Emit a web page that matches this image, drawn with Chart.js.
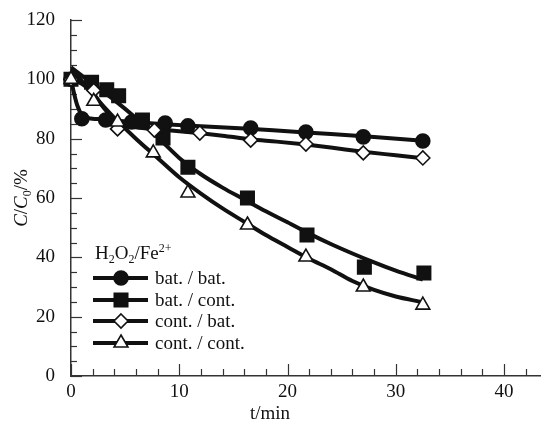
<!DOCTYPE html>
<html><head><meta charset="utf-8">
<script src="https://cdn.jsdelivr.net/npm/chart.js@4/dist/chart.umd.min.js"></script>
<style>html,body{margin:0;padding:0;background:#fff;overflow:hidden}#wrap{width:541px;height:429px;position:relative;overflow:hidden}canvas{display:block}</style>
</head><body><div id="wrap"><canvas id="c" width="553" height="429"></canvas></div>
<script>
const seriesNames = ['bat. / bat.', 'bat. / cont.', 'cont. / bat.', 'cont. / cont.'];
const xTickLabels = [0, 10, 20, 30, 40];
const yTickLabels = [0, 20, 40, 60, 80, 100, 120];
const X_MAX = 43.5;

// measured points (t/min, C/C0 %)
const batBatT = [0, 1.0, 3.2, 5.6, 8.7, 10.8, 16.6, 21.7, 27.0, 32.5];
const batBatY = [100, 86.7, 86.3, 85.6, 85.3, 84.3, 83.6, 82.2, 80.6, 79.2];
const batContT = [0, 1.9, 3.3, 4.4, 6.6, 8.5, 10.8, 16.3, 21.8, 27.1, 32.6];
const batContY = [100, 99.0, 96.5, 94.5, 86.3, 80.2, 70.4, 60.0, 47.5, 36.7, 34.7];
const contBatT = [0, 2.1, 4.3, 7.7, 11.9, 16.6, 21.7, 27.0, 32.5];
const contBatY = [100, 96.3, 83.3, 82.9, 81.9, 79.5, 78.2, 75.2, 73.5];
const contContT = [0, 2.1, 4.3, 7.6, 10.8, 16.3, 21.7, 27.0, 32.5];
const contContY = [100, 92.6, 85.6, 75.2, 61.7, 50.9, 40.1, 30.0, 23.9];

// fitted curves
const batBatFitT = [0, 0.3, 0.6, 1.0, 1.5, 2.5, 4, 6, 9, 12, 16, 20, 24, 28, 32.5];
const batBatFitY = [100, 95, 91, 88, 87, 86.6, 86.1, 85.5, 84.8, 84.2, 83.4, 82.5, 81.6, 80.6, 79.3];
const batContFitT = [0, 2, 4, 6, 8, 10, 12, 14, 16, 18, 20, 22, 24, 26, 28, 30, 32.5];
const batContFitY = [104, 98.5, 93, 87, 80.5, 73.5, 68, 63.5, 59.5, 55.5, 51.8, 48, 44.5, 41.3, 38.3, 35.5, 32.5];
const contBatFitT = [0, 1, 2, 3, 4, 5, 6, 8, 10, 12, 14, 16.6, 19, 21.7, 24, 27, 30, 32.5];
const contBatFitY = [100, 98.5, 95.5, 90.5, 86.5, 84.5, 83.8, 83.1, 82.5, 81.8, 81, 79.8, 79, 78, 77, 75.6, 74.4, 73.4];
const contContFitT = [0, 2, 4, 6, 8, 10, 12, 14, 16, 18, 20, 22, 24, 26, 28, 30, 32.3];
const contContFitY = [104, 95, 87, 80, 73.5, 67, 61.5, 56.5, 52, 47.5, 43.5, 39.5, 36, 32, 29, 26.8, 25];

const INK = '#111';
const SERIF = '"Liberation Serif", "Times New Roman", serif';
const zip = (t, y) => t.map((v, i) => ({x: v, y: y[i]}));

const markerStyles = [
  {pointStyle: 'circle', radius: 7, fill: INK},
  {pointStyle: 'rect', radius: 9.5, fill: INK},
  {pointStyle: 'rectRot', radius: 7, fill: '#fff'},
  {pointStyle: 'triangle', radius: 8, fill: '#fff'}
];
const pts = [zip(batBatT, batBatY), zip(batContT, batContY), zip(contBatT, contBatY), zip(contContT, contContY)];
const fits = [zip(batBatFitT, batBatFitY), zip(batContFitT, batContFitY), zip(contBatFitT, contBatFitY), zip(contContFitT, contContFitY)];

const datasets = [];
fits.forEach((d, i) => datasets.push({
  label: seriesNames[i] + ' fit', data: d, borderColor: INK, borderWidth: 4,
  pointRadius: 0, cubicInterpolationMode: 'monotone', fill: false, order: 10
}));
pts.forEach((d, i) => datasets.push({
  label: seriesNames[i], data: d, showLine: false, clip: false,
  pointStyle: markerStyles[i].pointStyle, pointRadius: markerStyles[i].radius,
  pointBackgroundColor: markerStyles[i].fill, pointBorderColor: INK, pointBorderWidth: 1.6,
  order: 4 - i
}));

function drawMarker(ctx, style, x, y) {
  ctx.save();
  ctx.fillStyle = style.fill; ctx.strokeStyle = INK; ctx.lineWidth = 1.6;
  ctx.beginPath();
  const r = style.radius;
  if (style.pointStyle === 'circle') ctx.arc(x, y, r, 0, Math.PI * 2);
  else if (style.pointStyle === 'rect') { const s = r * Math.SQRT1_2; ctx.rect(x - s, y - s, 2 * s, 2 * s); }
  else if (style.pointStyle === 'rectRot') { ctx.moveTo(x, y - r); ctx.lineTo(x + r, y); ctx.lineTo(x, y + r); ctx.lineTo(x - r, y); ctx.closePath(); }
  else if (style.pointStyle === 'triangle') {
    ctx.moveTo(x, y - r);
    ctx.lineTo(x + r * Math.cos(Math.PI / 6), y + r * Math.sin(Math.PI / 6));
    ctx.lineTo(x - r * Math.cos(Math.PI / 6), y + r * Math.sin(Math.PI / 6));
    ctx.closePath();
  }
  ctx.fill(); ctx.stroke();
  ctx.restore();
}

function drawPieces(ctx, pieces, x, y) {
  let cx = x;
  pieces.forEach(([t, f, dy]) => {
    ctx.font = f;
    ctx.fillText(t, cx, y + (dy || 0));
    cx += ctx.measureText(t).width;
  });
  return cx;
}
function piecesWidth(ctx, pieces) {
  let w = 0;
  pieces.forEach(([t, f]) => { ctx.font = f; w += ctx.measureText(t).width; });
  return w;
}

const decor = {
  id: 'decor',
  beforeDatasetsDraw(chart) {
    const {ctx, scales: {x, y}} = chart;
    ctx.save();
    ctx.strokeStyle = '#333'; ctx.lineWidth = 1.2;
    const left = x.getPixelForValue(0), bottom = y.getPixelForValue(0);
    for (let v = 0; v <= 120; v += 5) {
      const py = Math.round(y.getPixelForValue(v)) + 0.5;
      const len = v % 20 === 0 ? 11 : 6;
      ctx.beginPath(); ctx.moveTo(left, py); ctx.lineTo(left + len, py); ctx.stroke();
    }
    for (let v = 0; v <= X_MAX; v += 2) {
      const px = Math.round(x.getPixelForValue(v)) + 0.5;
      const len = v % 10 === 0 ? 12 : 7;
      ctx.beginPath(); ctx.moveTo(px, bottom); ctx.lineTo(px, bottom - len); ctx.stroke();
    }
    ctx.restore();
  },
  afterDraw(chart) {
    const {ctx} = chart;
    ctx.save();
    ctx.fillStyle = INK;
    ctx.textBaseline = 'alphabetic';
    ctx.font = '19px ' + SERIF;
    ctx.textAlign = 'center';
    ctx.fillText('t/min', 270, 419);
    ctx.textAlign = 'left';
    const it = 'italic 19px ' + SERIF, rg = '19px ' + SERIF, sm = '12px ' + SERIF;
    const yt = [['C', it], ['/', rg], ['C', it], ['0', sm, 4], ['/%', rg]];
    const w = piecesWidth(ctx, yt);
    ctx.save();
    ctx.translate(27, 198);
    ctx.rotate(-Math.PI / 2);
    drawPieces(ctx, yt, -w / 2, 0);
    ctx.restore();
    drawPieces(ctx, [['H', rg], ['2', sm, 4], ['O', rg], ['2', sm, 4], ['/Fe', rg], ['2+', sm, -7]], 95, 259);
    const rows = [278, 300, 321, 343];
    rows.forEach((ry, i) => {
      ctx.save();
      ctx.strokeStyle = INK; ctx.lineWidth = 4;
      ctx.beginPath(); ctx.moveTo(93, ry); ctx.lineTo(148, ry); ctx.stroke();
      ctx.restore();
      drawMarker(ctx, markerStyles[i], 121, ry);
      ctx.font = rg; ctx.fillStyle = INK;
      ctx.fillText(seriesNames[i], 155, ry + 6);
    });
    ctx.restore();
  }
};

new Chart(document.getElementById('c'), {
  type: 'line',
  data: {datasets},
  options: {
    responsive: false, animation: false, devicePixelRatio: 1,
    layout: {padding: {top: 20, right: 0, left: 0, bottom: 0}},
    plugins: {legend: {display: false}, tooltip: {enabled: false}},
    scales: {
      x: {
        type: 'linear', min: 0, max: X_MAX,
        afterBuildTicks: s => { s.ticks = xTickLabels.concat([X_MAX]).map(v => ({value: v})); },
        afterFit: s => { s.height = 53; },
        grid: {display: false},
        border: {display: true, color: '#333', width: 1.5},
        ticks: {color: INK, font: {family: SERIF, size: 19}, padding: -3, maxRotation: 0,
          callback: v => xTickLabels.includes(v) ? String(v) : ''}
      },
      y: {
        type: 'linear', min: 0, max: 120,
        afterBuildTicks: s => { s.ticks = yTickLabels.map(v => ({value: v})); },
        afterFit: s => { s.width = 71; s.paddingTop = 0; s.paddingBottom = 0; },
        grid: {display: false},
        border: {display: true, color: '#333', width: 1.5},
        ticks: {color: INK, font: {family: SERIF, size: 19}, padding: 8}
      }
    }
  },
  plugins: [decor]
});
</script></body></html>
